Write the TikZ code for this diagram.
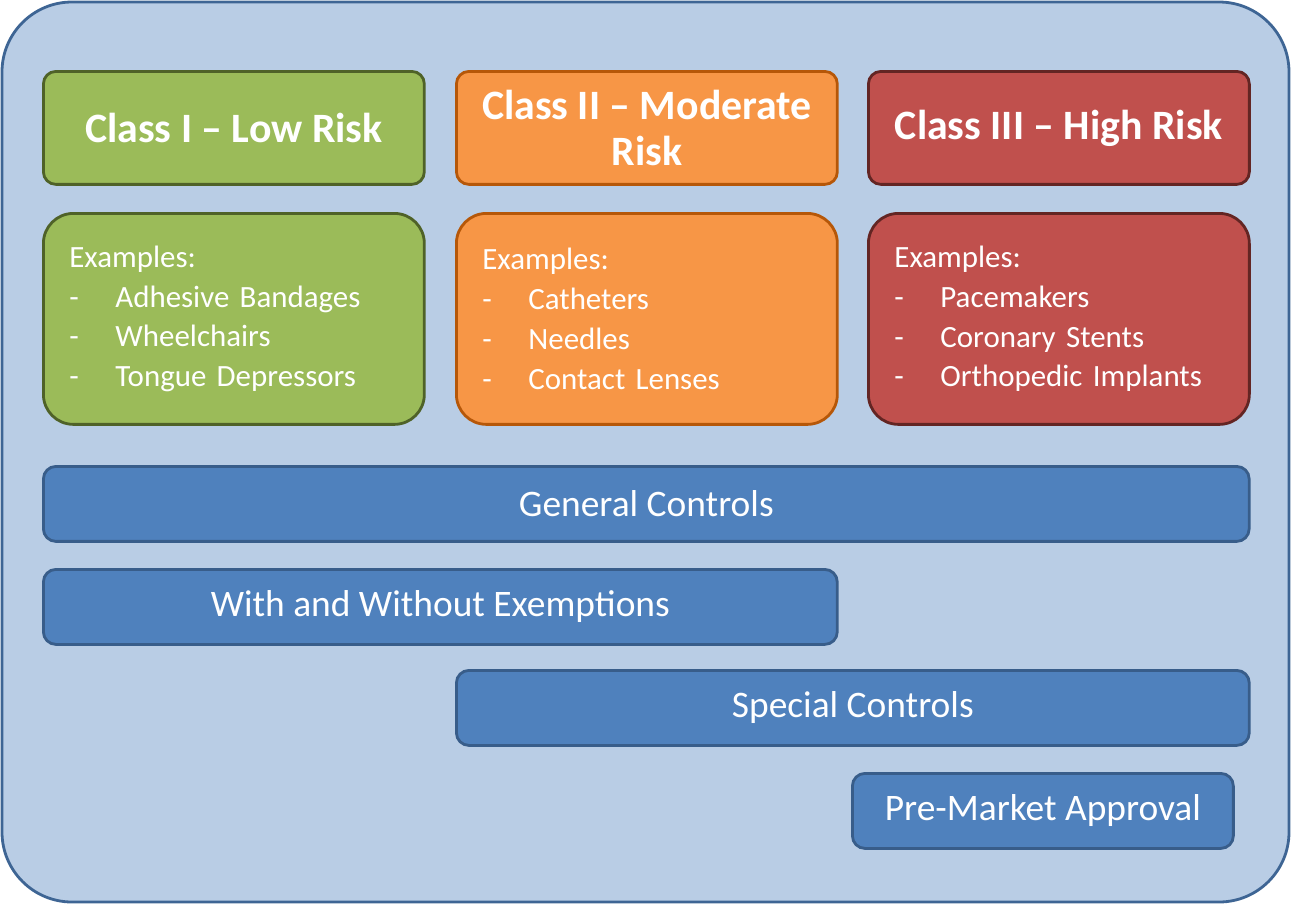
\documentclass[tikz,border=0pt]{standalone}
\usepackage{fontspec}
\setmainfont{Carlito}
\definecolor{bgfill}{HTML}{B9CDE5}
\definecolor{bgline}{HTML}{3E6594}
\definecolor{grfill}{HTML}{9BBB59}
\definecolor{grline}{HTML}{4F6228}
\definecolor{orfill}{HTML}{F79646}
\definecolor{orline}{HTML}{B65708}
\definecolor{rdfill}{HTML}{C0504D}
\definecolor{rdline}{HTML}{632523}
\definecolor{blfill}{HTML}{4F81BD}
\definecolor{blline}{HTML}{385D8A}
\newcommand{\itm}[1]{\makebox[0.92cm][l]{-}#1}
\tikzset{
  box/.style={draw, line width=1.6pt, rounded corners=0.25cm, anchor=north west,
    inner sep=0pt, text=white},
  head/.style={box, minimum width=7.62cm, minimum height=2.26cm, align=center,
    font=\bfseries\fontsize{23.8}{26}\selectfont},
  examp/.style={box, rounded corners=0.6cm, minimum width=7.62cm, minimum height=4.22cm,
    align=left, text width=6.58cm, font=\fontsize{17.6}{22.7}\selectfont},
  bar/.style={box, fill=blfill, draw=blline, minimum height=1.5cm,
    font=\fontsize{21.3}{24}\selectfont}
}
\begin{document}
\begin{tikzpicture}[x=0.02cm, y=-0.02cm]
\useasboundingbox (0,0) rectangle (1291,904);
\draw[fill=bgfill, draw=bgline, line width=1.6pt, rounded corners=1.4cm] (2,2) rectangle (1289,902);

% class headers
\node[head, fill=grfill, draw=grline] (hlow) at (42,70) {Class I -- Low Risk};
\node[head, fill=orfill, draw=orline] (hmod) at (455,70) {Class II -- Moderate\\Risk};
\node[head, fill=rdfill, draw=rdline] (hhigh) at (867,70) {Class III -- High Risk};

% examples
\node[examp, fill=grfill, draw=grline] (elow) at (42,212)
  {Examples:\\\itm{Adhesive Bandages}\\\itm{Wheelchairs}\\\itm{Tongue Depressors}};
\node[examp, fill=orfill, draw=orline] (emod) at (455,212)
  {Examples:\\\itm{Catheters}\\\itm{Needles}\\\itm{Contact Lenses}};
\node[examp, fill=rdfill, draw=rdline] (ehigh) at (867,212)
  {Examples:\\\itm{Pacemakers}\\\itm{Coronary Stents}\\\itm{Orthopedic Implants}};

% controls
\node[bar, minimum width=24.12cm] (general) at (42,465) {General Controls};
\node[bar, minimum width=15.88cm] (exempt) at (42,568) {With and Without Exemptions};
\node[bar, minimum width=15.86cm] (special) at (455,669) {Special Controls};
\node[bar, minimum width=7.62cm] (pma) at (851,772) {Pre-Market Approval};
\end{tikzpicture}
\end{document}
